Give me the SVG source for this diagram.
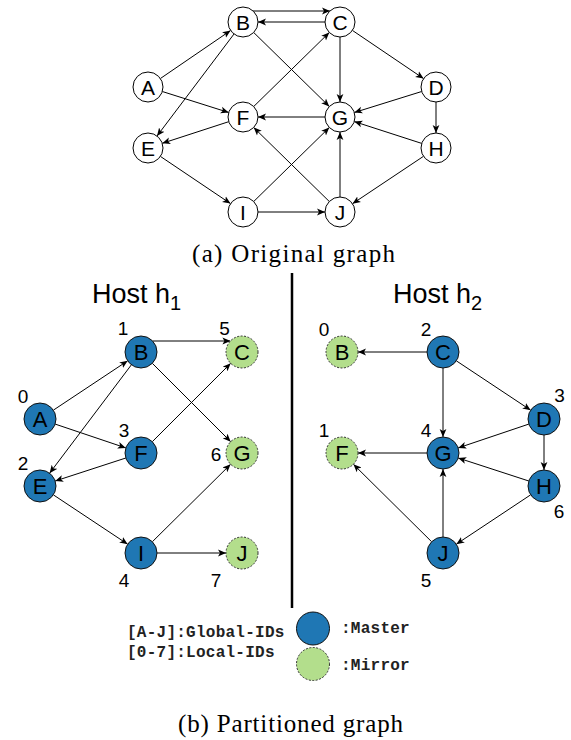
<svg xmlns="http://www.w3.org/2000/svg" width="571" height="740" viewBox="0 0 571 740">
<style>
.e{stroke:#000;stroke-width:1;fill:none;marker-end:url(#ah)}
.tn{fill:#fff;stroke:#000;stroke-width:1}
.m{fill:#1f77b4;stroke:#111;stroke-width:1}
.r{fill:#b3de8c;stroke:#333;stroke-width:1;stroke-dasharray:2 1.5}
.tl{font-family:"Liberation Sans",Arial,sans-serif;font-size:21px;text-anchor:middle;fill:#000}
.bl{font-family:"Liberation Sans",Arial,sans-serif;font-size:22px;text-anchor:middle;fill:#000}
.id{font-family:"Liberation Sans",Arial,sans-serif;font-size:19px;text-anchor:middle;fill:#000}
.host{font-family:"Liberation Sans",Arial,sans-serif;font-size:27px;fill:#000}
.cap{font-family:"Liberation Serif","Times New Roman",serif;font-size:25px;fill:#000}
.mono{font-family:"Liberation Mono","Courier New",monospace;font-size:16px;font-weight:bold;fill:#222;letter-spacing:0.25px}
</style>
<defs>
<marker id="ah" markerUnits="userSpaceOnUse" markerWidth="8" markerHeight="8" viewBox="0 0 8 8" refX="8" refY="4" orient="auto">
<path d="M0,0.6 L8,4 L0,7.4 L2,4 Z" fill="#000"/>
</marker>
</defs>

<!-- Top graph connectors -->
<g id="top-edges">
<line class="e" x1="160.4" y1="78.5" x2="230.6" y2="30.5"/>
<line class="e" x1="162.3" y1="91.5" x2="228.7" y2="112.5"/>
<line class="e" x1="234" y1="34" x2="157" y2="136"/>
<line class="e" x1="253.7" y1="32.5" x2="329.3" y2="106.5"/>
<line class="e" x1="253.7" y1="106.5" x2="329.3" y2="32.5"/>
<line class="e" x1="340" y1="37" x2="340" y2="102"/>
<line class="e" x1="352.4" y1="30.4" x2="423.6" y2="78.6"/>
<line class="e" x1="421.7" y1="91.5" x2="354.3" y2="112.5"/>
<line class="e" x1="436" y1="102" x2="436" y2="133"/>
<line class="e" x1="325" y1="117" x2="258" y2="117"/>
<line class="e" x1="228.7" y1="121.7" x2="162.3" y2="143.3"/>
<line class="e" x1="421.7" y1="143.4" x2="354.3" y2="121.6"/>
<line class="e" x1="423.5" y1="156.3" x2="352.5" y2="203.7"/>
<line class="e" x1="160.4" y1="156.4" x2="230.5" y2="203.6"/>
<line class="e" x1="253.7" y1="201.5" x2="329.3" y2="127.5"/>
<line class="e" x1="258" y1="212" x2="325" y2="212"/>
<line class="e" x1="340" y1="197" x2="340" y2="132"/>
<line class="e" x1="329.3" y1="201.5" x2="253.7" y2="127.5"/>
<line class="e" x1="253" y1="11" x2="330" y2="11"/>
<line class="e" x1="325" y1="22" x2="258" y2="22"/>
</g>

<!-- Top graph nodes -->
<g id="tA"><circle class="tn" cx="148" cy="87" r="15"/><text class="tl" x="148" y="94.5">A</text></g>
<g id="tB"><circle class="tn" cx="243" cy="22" r="15"/><text class="tl" x="243" y="29.5">B</text></g>
<g id="tC"><circle class="tn" cx="340" cy="22" r="15"/><text class="tl" x="340" y="29.5">C</text></g>
<g id="tD"><circle class="tn" cx="436" cy="87" r="15"/><text class="tl" x="436" y="94.5">D</text></g>
<g id="tE"><circle class="tn" cx="148" cy="148" r="15"/><text class="tl" x="148" y="155.5">E</text></g>
<g id="tF"><circle class="tn" cx="243" cy="117" r="15"/><text class="tl" x="243" y="124.5">F</text></g>
<g id="tG"><circle class="tn" cx="340" cy="117" r="15"/><text class="tl" x="340" y="124.5">G</text></g>
<g id="tH"><circle class="tn" cx="436" cy="148" r="15"/><text class="tl" x="436" y="155.5">H</text></g>
<g id="tI"><circle class="tn" cx="243" cy="212" r="15"/><text class="tl" x="243" y="219.5">I</text></g>
<g id="tJ"><circle class="tn" cx="340" cy="212" r="15"/><text class="tl" x="340" y="219.5">J</text></g>

<text class="cap" x="192" y="262" textLength="203" lengthAdjust="spacing">(a) Original graph</text>

<!-- Divider -->
<line x1="292" y1="273" x2="292" y2="608" stroke="#000" stroke-width="2.5"/>

<!-- Host titles -->
<text class="host" x="92" y="303">Host h<tspan font-size="20" dy="7">1</tspan></text>
<text class="host" x="393" y="303">Host h<tspan font-size="20" dy="7">2</tspan></text>

<!-- Host h1 connectors -->
<g id="h1-edges">
<line class="e" x1="53.3" y1="410.2" x2="127.7" y2="360.8"/>
<line class="e" x1="55.2" y1="424.1" x2="125.8" y2="447.9"/>
<line class="e" x1="131.4" y1="364.8" x2="49.6" y2="473.2"/>
<line class="e" x1="152.6" y1="341" x2="230.4" y2="341"/>
<line class="e" x1="152.3" y1="363.3" x2="230.7" y2="441.7"/>
<line class="e" x1="152.3" y1="441.7" x2="230.7" y2="363.3"/>
<line class="e" x1="125.8" y1="458" x2="55.2" y2="481"/>
<line class="e" x1="53.3" y1="494.8" x2="127.7" y2="544.2"/>
<line class="e" x1="152.4" y1="541.7" x2="230.6" y2="464.3"/>
<line class="e" x1="157" y1="553" x2="226" y2="553"/>
</g>

<!-- Host h1 nodes -->
<g id="h1A"><circle class="m" cx="40" cy="419" r="16"/><text class="bl" x="40" y="427">A</text><text class="id" x="23" y="403">0</text></g>
<g id="h1B"><circle class="m" cx="141" cy="352" r="16"/><text class="bl" x="141" y="360">B</text><text class="id" x="123" y="335">1</text></g>
<g id="h1C"><circle class="r" cx="242" cy="352" r="16"/><text class="bl" x="242" y="360">C</text><text class="id" x="224.5" y="335">5</text></g>
<g id="h1E"><circle class="m" cx="40" cy="486" r="16"/><text class="bl" x="40" y="494">E</text><text class="id" x="23" y="470">2</text></g>
<g id="h1F"><circle class="m" cx="141" cy="453" r="16"/><text class="bl" x="141" y="461">F</text><text class="id" x="124" y="437">3</text></g>
<g id="h1G"><circle class="r" cx="242" cy="453" r="16"/><text class="bl" x="242" y="461">G</text><text class="id" x="216" y="461">6</text></g>
<g id="h1I"><circle class="m" cx="141" cy="553" r="16"/><text class="bl" x="141" y="561">I</text><text class="id" x="124" y="587">4</text></g>
<g id="h1J"><circle class="r" cx="242" cy="553" r="16"/><text class="bl" x="242" y="561">J</text><text class="id" x="216" y="587">7</text></g>

<!-- Host h2 connectors -->
<g id="h2-edges">
<line class="e" x1="427" y1="352" x2="358" y2="352"/>
<line class="e" x1="443" y1="368" x2="443" y2="437"/>
<line class="e" x1="456.3" y1="360.8" x2="530.7" y2="410.2"/>
<line class="e" x1="528.8" y1="424.1" x2="458.2" y2="447.9"/>
<line class="e" x1="544" y1="435" x2="544" y2="470"/>
<line class="e" x1="427" y1="453" x2="358" y2="453"/>
<line class="e" x1="528.8" y1="481" x2="458.2" y2="458"/>
<line class="e" x1="530.7" y1="494.8" x2="456.3" y2="544.2"/>
<line class="e" x1="443" y1="537" x2="443" y2="469"/>
<line class="e" x1="431.6" y1="541.7" x2="353.4" y2="464.3"/>
</g>

<!-- Host h2 nodes -->
<g id="h2B"><circle class="r" cx="342" cy="352" r="16"/><text class="bl" x="342" y="360">B</text><text class="id" x="324" y="336">0</text></g>
<g id="h2C"><circle class="m" cx="443" cy="352" r="16"/><text class="bl" x="443" y="360">C</text><text class="id" x="426" y="336">2</text></g>
<g id="h2D"><circle class="m" cx="544" cy="419" r="16"/><text class="bl" x="544" y="427">D</text><text class="id" x="559.5" y="402">3</text></g>
<g id="h2F"><circle class="r" cx="342" cy="453" r="16"/><text class="bl" x="342" y="461">F</text><text class="id" x="324" y="437">1</text></g>
<g id="h2G"><circle class="m" cx="443" cy="453" r="16"/><text class="bl" x="443" y="461">G</text><text class="id" x="426" y="437">4</text></g>
<g id="h2H"><circle class="m" cx="544" cy="486" r="16"/><text class="bl" x="544" y="494">H</text><text class="id" x="559" y="518">6</text></g>
<g id="h2J"><circle class="m" cx="443" cy="553" r="16"/><text class="bl" x="443" y="561">J</text><text class="id" x="426" y="587">5</text></g>

<!-- Legend -->
<g id="legend">
<text class="mono" x="127" y="637">[A-J]:Global-IDs</text>
<text class="mono" x="127" y="657">[0-7]:Local-IDs</text>
<circle class="m" cx="313" cy="628.5" r="16.5"/>
<circle class="r" cx="313" cy="664" r="16.5"/>
<text class="mono" x="341" y="633">:Master</text>
<text class="mono" x="341" y="670">:Mirror</text>
</g>

<text class="cap" x="178" y="732" textLength="225" lengthAdjust="spacing">(b) Partitioned graph</text>
</svg>
